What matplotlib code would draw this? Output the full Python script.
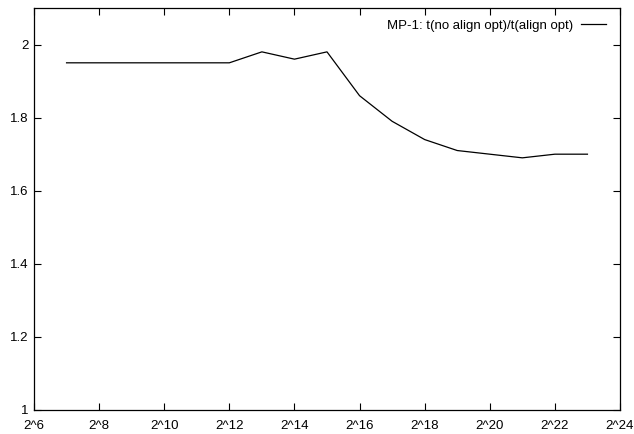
import matplotlib
matplotlib.use("Agg")
import matplotlib.pyplot as plt

# problem size exponents (size = 2^k) and measured speedup ratio
exponents = [7, 8, 9, 10, 11, 12, 13, 14, 15, 16, 17, 18, 19, 20, 21, 22, 23]
ratio = [1.95, 1.95, 1.95, 1.95, 1.95, 1.95, 1.98, 1.96, 1.98, 1.86, 1.79,
         1.74, 1.71, 1.70, 1.69, 1.70, 1.70]
tick_exponents = [6, 8, 10, 12, 14, 16, 18, 20, 22, 24]
y_ticks = [1, 1.2, 1.4, 1.6, 1.8, 2]

plt.rcParams["font.family"] = ["Liberation Sans", "DejaVu Sans"]
plt.rcParams["font.size"] = 9.5

fig = plt.figure(figsize=(6.34, 4.34), dpi=100)
ax = fig.add_axes([34 / 634, 24 / 434, 586 / 634, 402 / 434])

sizes = [2 ** k for k in exponents]
ax.plot(sizes, ratio, color="black", linewidth=0.9,
        label="MP-1: t(no align opt)/t(align opt)")

ax.set_xscale("log", base=2)
ax.set_xlim(2 ** 6, 2 ** 24)
ax.set_ylim(1, 2.1)
ax.set_xticks([2 ** k for k in tick_exponents])
ax.set_xticklabels(["2^%d" % k for k in tick_exponents])
ax.xaxis.set_minor_locator(matplotlib.ticker.NullLocator())
ax.set_yticks(y_ticks)
ax.set_yticklabels(["%g" % v for v in y_ticks])

ax.tick_params(direction="in", top=True, right=True, length=5, width=0.8,
               colors="black")
ax.tick_params(axis="x", pad=7)
ax.tick_params(axis="y", pad=4)
for s in ax.spines.values():
    s.set_linewidth(0.9)

leg = ax.legend(loc="upper right", frameon=False, markerfirst=False,
                handlelength=1.9, handletextpad=0.6, borderaxespad=0.5,
                fontsize=9.5)
# nudge the legend a few pixels left so the key line ends near the frame
leg.set_bbox_to_anchor((0.996, 1.0), transform=ax.transAxes)

fig.savefig("out.png", dpi=100)
